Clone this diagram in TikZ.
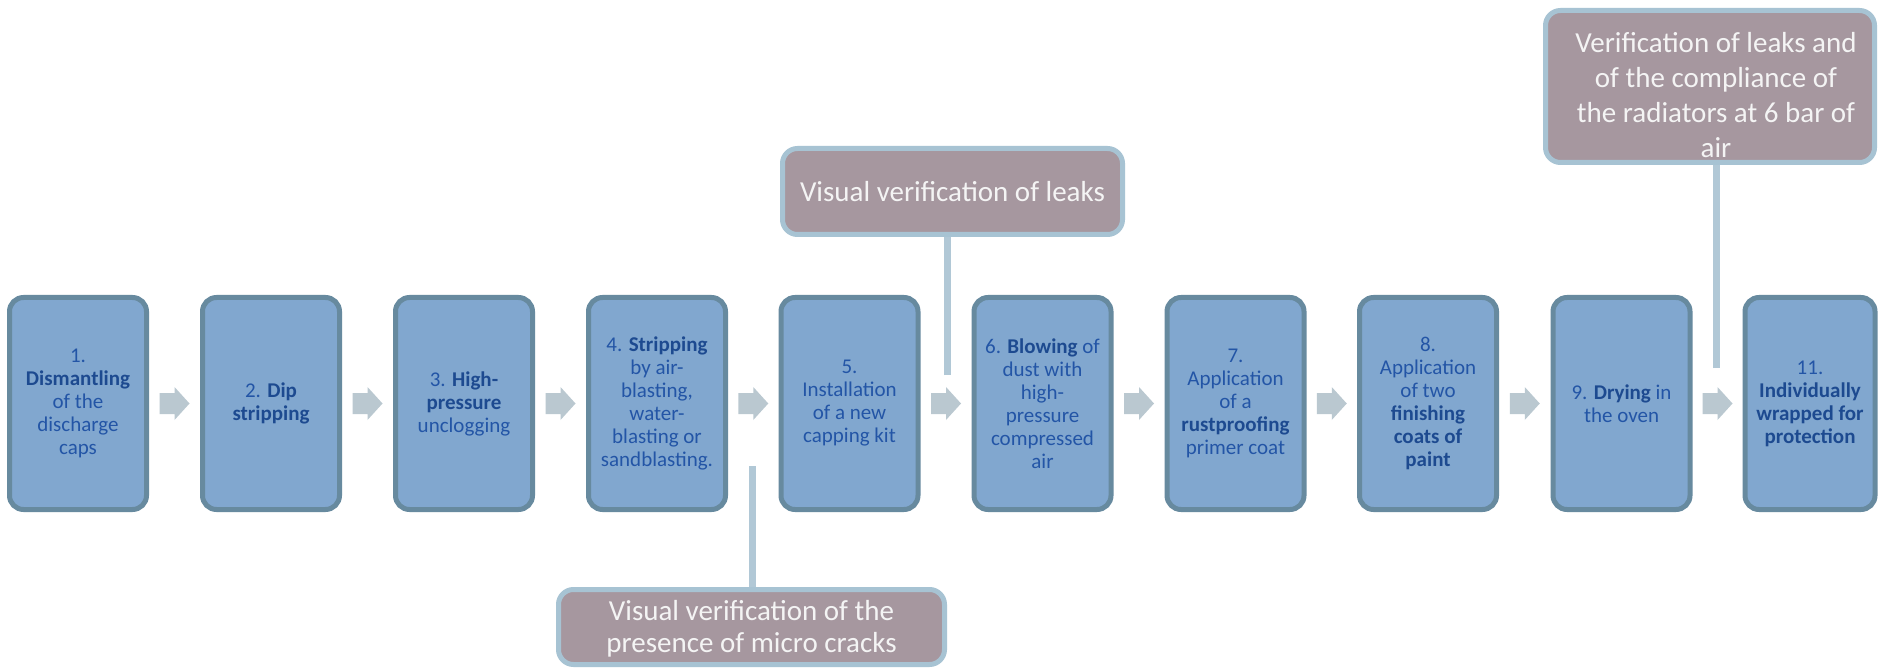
\documentclass[tikz,border=0pt]{standalone}
\usepackage{fontspec}
\setmainfont{Carlito}
\usetikzlibrary{calc}
\definecolor{boxfill}{HTML}{81A7CF}
\definecolor{boxline}{HTML}{678A9F}
\definecolor{txtblue}{HTML}{2355A6}
\definecolor{boldblue}{HTML}{1D4A90}
\definecolor{arrowcol}{HTML}{BAC8D0}
\definecolor{calfill}{HTML}{A6979F}
\definecolor{calline}{HTML}{A7C3D3}
\definecolor{vlinecol}{HTML}{B1C8D6}
\definecolor{caltext}{HTML}{F4F4F4}
\newcommand\B[1]{\textbf{\color{boldblue}#1}}
\tikzset{
  stepbox/.style={draw=boxline, fill=boxfill, line width=5pt, rounded corners=14pt,
    minimum width=137pt, minimum height=212pt, inner sep=0pt, align=center,
    text=txtblue, font=\fontsize{21}{23}\selectfont},
  flowarrow/.style={fill=arrowcol, draw=none},
  callout/.style={draw=calline, fill=calfill, line width=5pt, rounded corners=15pt,
    inner sep=0pt, align=center, text=caltext},
  caltxt/.style={align=center, text=caltext, inner sep=0pt},
  vline/.style={draw=vlinecol, line width=7pt}
}
\newcommand\blockarrow[2]{%
  \fill[flowarrow] ($(#1.east)!0.5!(#2.west)$) ++(-15,-10.5) -- ++(15,0) -- ++(0,-6)
    -- ++(15,16.5) -- ++(-15,16.5) -- ++(0,-6) -- ++(-15,0) -- cycle;}
\begin{document}
\begin{tikzpicture}[x=1pt,y=-1pt]
\clip (0,0) rectangle (1879,668);
\fill[white] (0,0) rectangle (1879,668);
% process boxes
\node[stepbox] (b1) at (78,403.5) {1.\\ \B{Dismantling}\\ of the\\ discharge\\ caps};
\node[stepbox] (b2) at (271,403.5) {2. \B{Dip}\\ \B{stripping}};
\node[stepbox] (b3) at (464,403.5) {3. \B{High-}\\ \B{pressure}\\ unclogging};
\node[stepbox] (b4) at (657,403.5) {4. \B{Stripping}\\ by air-\\ blasting,\\ water-\\ blasting or\\ sandblasting.};
\node[stepbox] (b5) at (849.5,403.5) {5.\\ Installation\\ of a new\\ capping kit};
\node[stepbox] (b6) at (1042.5,403.5) {6. \B{Blowing} of\\ dust with\\ high-\\ pressure\\ compressed\\ air};
\node[stepbox] (b7) at (1235.5,403.5) {7.\\ Application\\ of a\\ \B{rustproofing}\\ primer coat};
\node[stepbox] (b8) at (1428,403.5) {8.\\ Application\\ of two\\ \B{finishing}\\ \B{coats of}\\ \B{paint}};
\node[stepbox] (b9) at (1621.5,403.5) {9. \B{Drying} in\\ the oven};
\node[stepbox, minimum width=130pt] (b11) at (1810,403.5) {11.\\ \B{Individually}\\ \B{wrapped for}\\ \B{protection}};
% block arrows
\blockarrow{b1}{b2}
\blockarrow{b2}{b3}
\blockarrow{b3}{b4}
\blockarrow{b4}{b5}
\blockarrow{b5}{b6}
\blockarrow{b6}{b7}
\blockarrow{b7}{b8}
\blockarrow{b8}{b9}
\blockarrow{b9}{b11}
% line end points
\coordinate (v1) at (947,375);
\coordinate (v2) at (752,466);
\coordinate (v3) at (1716,368);
% callouts
\draw[vline] (v1) -- (947,200);
\draw[vline] (v2) -- (752,620);
\draw[vline] (v3) -- (1716,100);
\node[callout, minimum width=340pt, minimum height=86pt, font=\fontsize{29}{35}\selectfont] (c1) at (952.5,191.5) {Visual verification of leaks};
\node[callout, minimum width=386pt, minimum height=75pt] (c2) at (751.5,627) {};
\node[caltxt, font=\fontsize{29}{32}\selectfont] (c2t) at (751.5,629) {Visual verification of the\\ presence of micro cracks};
\node[callout, minimum width=329pt, minimum height=152pt] (c3) at (1710,86.5) {};
\node[caltxt, font=\fontsize{29}{35.3}\selectfont] (c3t) at (1716,95) {Verification of leaks and\\ of the compliance of\\ the radiators at 6 bar of\\ air};
\end{tikzpicture}
\end{document}
